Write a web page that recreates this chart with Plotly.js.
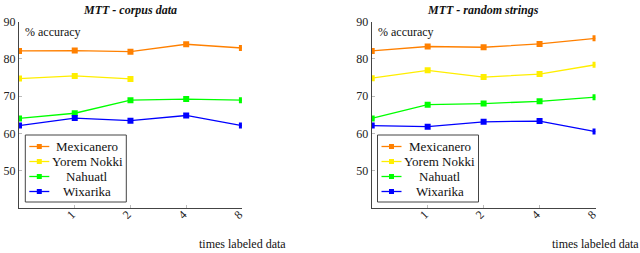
<!DOCTYPE html>
<html>
<head>
<meta charset="utf-8">
<script src="https://cdn.plot.ly/plotly-3.0.1.min.js"></script>
<style>
  body { margin: 0; background: #fff; }
  #chart { width: 640px; height: 253px; }
</style>
</head>
<body>
<div id="chart"></div>
<script>
  const steps = ["0", "1", "2", "4", "8"];
  const tickLabels = ["1", "2", "4", "8"];
  const languages = ["Mexicanero", "Yorem Nokki", "Nahuatl", "Wixarika"];
  const colors = ["#ff8000", "#ffee00", "#00ff00", "#0000ff"];

  // MTT - corpus data
  const corpusMexicanero = [82.1, 82.2, 81.9, 83.9, 82.9];
  const corpusYorem = [74.7, 75.4, 74.6, null, null];
  const corpusNahuatl = [64.0, 65.4, 68.9, 69.2, 68.9];
  const corpusWixarika = [62.1, 64.1, 63.4, 64.8, 62.1];

  // MTT - random strings
  const randomMexicanero = [82.1, 83.3, 83.1, 84.0, 85.5];
  const randomYorem = [74.8, 76.9, 75.1, 75.9, 78.4];
  const randomNahuatl = [64.0, 67.7, 68.0, 68.6, 69.7];
  const randomWixarika = [62.1, 61.8, 63.1, 63.3, 60.5];

  const serif = "Liberation Serif";
  const W = 640, H = 253;
  const px = (x) => x / W;
  const py = (y) => 1 - y / H;

  const makeTraces = (series, xa, ya) =>
    series.map((y, i) => ({
      x: steps,
      y: y,
      type: "scatter",
      mode: "lines+markers",
      name: languages[i],
      xaxis: xa,
      yaxis: ya,
      showlegend: false,
      line: { color: colors[i], width: 1.3 },
      marker: { symbol: "square", size: 6, color: colors[i] },
    }));

  const traces = [
    ...makeTraces([corpusMexicanero, corpusYorem, corpusNahuatl, corpusWixarika], "x", "y"),
    ...makeTraces([randomMexicanero, randomYorem, randomNahuatl, randomWixarika], "x2", "y2"),
  ];

  const xAxis = (domain, anchor) => ({
    domain: domain,
    anchor: anchor,
    type: "category",
    categoryarray: steps,
    range: [0, 4],
    tickvals: tickLabels,
    ticktext: tickLabels,
    tickangle: -45,
    ticklabelstandoff: -6,
    ticklabelshift: -3,
    ticks: "inside",
    ticklen: 3,
    tickcolor: "#bbb",
    showline: true,
    linecolor: "#444",
    linewidth: 1,
    showgrid: false,
    zeroline: false,
    tickfont: { family: serif, size: 12, color: "#222" },
  });

  const yAxis = (anchor) => ({
    domain: [0.178, 0.915],
    anchor: anchor,
    range: [40, 90],
    tickvals: [50, 60, 70, 80, 90],
    ticks: "inside",
    ticklen: 3,
    tickcolor: "#bbb",
    showline: true,
    linecolor: "#444",
    linewidth: 1,
    showgrid: false,
    zeroline: false,
    tickfont: { family: serif, size: 12, color: "#222" },
  });

  const textAnno = (text, x, y, xanchor, yanchor, size) => ({
    text: text,
    xref: "paper",
    yref: "paper",
    x: x,
    y: y,
    xanchor: xanchor,
    yanchor: yanchor || "middle",
    showarrow: false,
    font: { family: serif, size: size || 12, color: "#111" },
  });

  const arrow = (xref, yref, x, y, ax, ay) => ({
    xref: xref, yref: yref, x: x, y: y, ax: ax, ay: ay,
    text: "", showarrow: true, arrowhead: 2, arrowsize: 0.7,
    arrowwidth: 1, arrowcolor: "#444",
  });

  // legend box drawn by hand so the rows sit as tight as in the original
  const shapes = [];
  const annotations = [];
  const addLegend = (left) => {
    const top = 135, rowH = 15, firstRow = 146.5;
    shapes.push({
      type: "rect", xref: "paper", yref: "paper",
      x0: px(left), x1: px(left + 101), y0: py(top + 67), y1: py(top),
      line: { color: "#444", width: 1 }, fillcolor: "#fff",
    });
    languages.forEach((name, i) => {
      const y = firstRow + rowH * i;
      shapes.push({
        type: "line", xref: "paper", yref: "paper",
        x0: px(left + 4), x1: px(left + 24), y0: py(y), y1: py(y),
        line: { color: colors[i], width: 1.3 },
      });
      shapes.push({
        type: "rect", xref: "paper", yref: "paper",
        x0: px(left + 11.5), x1: px(left + 16.5), y0: py(y + 2.5), y1: py(y - 2.5),
        line: { width: 0 }, fillcolor: colors[i],
      });
      annotations.push(textAnno(name, px(left + 62), py(y), "center", "middle", 13));
    });
  };
  addLegend(25.3);
  addLegend(377.5);

  annotations.push(
    textAnno("<b><i>MTT - corpus data</i></b>", 0.203, 0.96, "center"),
    textAnno("<b><i>MTT - random strings</i></b>", 0.755, 0.96, "center"),
    textAnno("% accuracy", 0.036, 0.874, "left"),
    textAnno("% accuracy", 0.587, 0.874, "left"),
    textAnno("times labeled data", 0.308, 0.0, "left", "bottom"),
    textAnno("times labeled data", 0.859, 0.0, "left", "bottom"),
    arrow("x", "y", "0", 90.4, 0, 8),
    arrow("x", "y", "8", 40, -8, 0),
    arrow("x2", "y2", "0", 90.4, 0, 8),
    arrow("x2", "y2", "8", 40, -8, 0)
  );

  const layout = {
    width: W,
    height: H,
    margin: { l: 0, r: 0, t: 0, b: 0 },
    paper_bgcolor: "#fff",
    plot_bgcolor: "rgba(0,0,0,0)",
    showlegend: false,
    font: { family: serif },
    xaxis: xAxis([0.0297, 0.378], "y"),
    yaxis: yAxis("x"),
    xaxis2: xAxis([0.5808, 0.9305], "y2"),
    yaxis2: yAxis("x2"),
    shapes: shapes,
    annotations: annotations,
  };

  Plotly.newPlot("chart", traces, layout, { staticPlot: true });
</script>
</body>
</html>
